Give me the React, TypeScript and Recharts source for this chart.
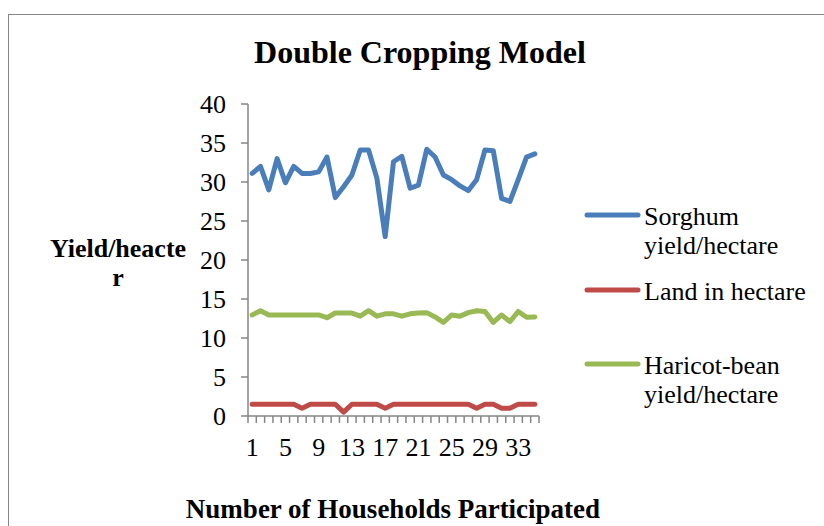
import React from 'react';
import { Line, LineChart, XAxis, YAxis } from 'recharts';

const households = [
  1, 2, 3, 4, 5, 6, 7, 8, 9, 10, 11, 12, 13, 14, 15, 16, 17, 18, 19, 20,
  21, 22, 23, 24, 25, 26, 27, 28, 29, 30, 31, 32, 33, 34, 35,
];
const sorghum = [
  31.1, 32.0, 29.0, 33.0, 29.9, 32.0, 31.1, 31.1, 31.3, 33.2, 28.0, 29.4,
  30.9, 34.1, 34.1, 30.5, 23.0, 32.6, 33.3, 29.2, 29.6, 34.2, 33.2, 30.9,
  30.3, 29.5, 28.9, 30.3, 34.1, 34.0, 27.9, 27.5, 30.3, 33.2, 33.6,
];
const land = [
  1.5, 1.5, 1.5, 1.5, 1.5, 1.5, 1.0, 1.5, 1.5, 1.5, 1.5, 0.5, 1.5, 1.5, 1.5,
  1.5, 1.0, 1.5, 1.5, 1.5, 1.5, 1.5, 1.5, 1.5, 1.5, 1.5, 1.5, 1.0, 1.5, 1.5,
  1.0, 1.0, 1.5, 1.5, 1.5,
];
const haricot = [
  12.95, 13.5, 12.95, 12.95, 12.95, 12.95, 12.95, 12.95, 12.95, 12.6, 13.2,
  13.2, 13.2, 12.8, 13.5, 12.8, 13.1, 13.1, 12.8, 13.1, 13.2, 13.25, 12.7,
  12.0, 12.95, 12.8, 13.25, 13.5, 13.4, 12.0, 12.95, 12.1, 13.4, 12.65, 12.7,
];
const yTicks = [0, 5, 10, 15, 20, 25, 30, 35, 40];

const data = households.map((hh, i) => ({
  hh,
  sorghum: sorghum[i],
  land: land[i],
  haricot: haricot[i],
}));

const FONT = '"Liberation Serif", "Times New Roman", serif';
const AXIS = '#868686';
const HALF = 4.157;
const serif = { fontFamily: FONT };

const HouseholdTick = (props: any) => {
  const { x, y, index, payload } = props;
  const last = index === households.length - 1;
  return (
    <g>
      <line x1={x - HALF} x2={x - HALF} y1={y} y2={y + 7} stroke={AXIS} strokeWidth={1.5} />
      {last && <line x1={x + HALF} x2={x + HALF} y1={y} y2={y + 7} stroke={AXIS} strokeWidth={1.5} />}
      {index % 4 === 0 && (
        <text x={x} y={y + 40} textAnchor="middle" fontSize={26} style={serif} fill="#000">
          {payload.value}
        </text>
      )}
    </g>
  );
};

const legendItems = [
  { color: '#4A7EBB', lines: ['Sorghum', 'yield/hectare'], y: 215 },
  { color: '#BE4B48', lines: ['Land in hectare'], y: 290 },
  { color: '#98B954', lines: ['Haricot-bean', 'yield/hectare'], y: 364 },
];

export default function App() {
  return (
    <div style={{ position: 'absolute', left: 0, top: 0, width: 824, height: 526, overflow: 'hidden', background: '#fff', fontFamily: FONT }}>
      <div
        style={{
          position: 'absolute',
          left: 8,
          top: 14,
          width: 840,
          height: 540,
          border: `1px solid ${AXIS}`,
        }}
      />
      <div style={{ position: 'absolute', left: 0, top: 0 }}>
        <LineChart width={824} height={526} data={data} margin={{ top: 104, right: 285, bottom: 70, left: 188 }}>
          <XAxis
            dataKey="hh"
            height={40}
            interval={0}
            padding={{ left: HALF, right: HALF }}
            tickLine={false}
            tickSize={0}
            tickMargin={0}
            stroke={AXIS}
            strokeWidth={1.5}
            tick={<HouseholdTick />}
          />
          <YAxis
            width={60}
            domain={[0, 40]}
            ticks={yTicks}
            interval={0}
            stroke={AXIS}
            strokeWidth={1.5}
            tickSize={7}
            tickMargin={15}
            tick={{ fill: '#000', fontSize: 26, fontFamily: FONT }}
          />
          <Line type="linear" dataKey="sorghum" stroke="#4A7EBB" strokeWidth={5} dot={false} isAnimationActive={false} strokeLinejoin="round" strokeLinecap="round" />
          <Line type="linear" dataKey="land" stroke="#BE4B48" strokeWidth={5} dot={false} isAnimationActive={false} strokeLinejoin="round" strokeLinecap="round" />
          <Line type="linear" dataKey="haricot" stroke="#98B954" strokeWidth={5} dot={false} isAnimationActive={false} strokeLinejoin="round" strokeLinecap="round" />
        </LineChart>
      </div>
      <svg width={824} height={526} style={{ position: 'absolute', left: 0, top: 0, pointerEvents: 'none', fontFamily: FONT }}>
        <text x={420} y={63} textAnchor="middle" fontSize={32} fontWeight="bold" style={serif} fill="#000">
          Double Cropping Model
        </text>
        <text x={118} y={257} textAnchor="middle" fontSize={26} fontWeight="bold" style={serif} fill="#000">
          Yield/heacte
        </text>
        <text x={118} y={286} textAnchor="middle" fontSize={26} fontWeight="bold" style={serif} fill="#000">
          r
        </text>
        <text x={393} y={518} textAnchor="middle" fontSize={27} fontWeight="bold" style={serif} fill="#000">
          Number of Households Participated
        </text>
        {legendItems.map((item) => (
          <g key={item.lines[0]}>
            <line x1={587} x2={638} y1={item.y} y2={item.y} stroke={item.color} strokeWidth={5} strokeLinecap="round" />
            {item.lines.map((t, k) => (
              <text key={t} x={644} y={item.y + 10 + k * 28.5} fontSize={26} style={serif} fill="#000">
                {t}
              </text>
            ))}
          </g>
        ))}
      </svg>
    </div>
  );
}
